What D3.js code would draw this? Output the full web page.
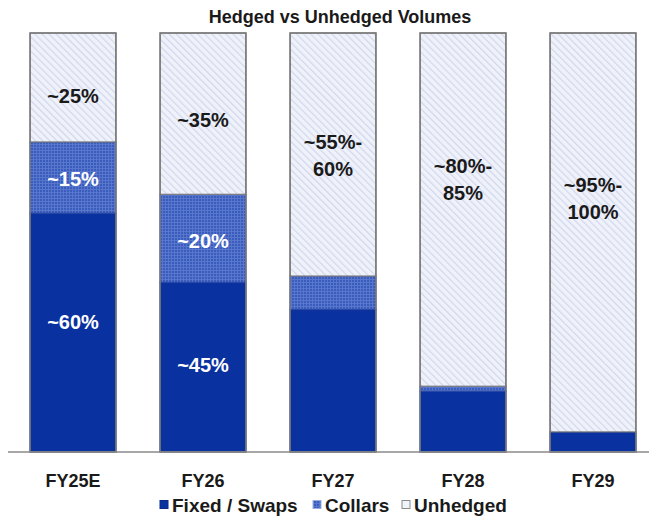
<!DOCTYPE html>
<html>
<head>
<meta charset="utf-8">
<script src="https://cdn.jsdelivr.net/npm/d3@7/dist/d3.min.js"></script>
<style>
  html, body { margin: 0; padding: 0; background: #ffffff; }
  svg { display: block; font-family: "Liberation Sans", Arial, sans-serif; }
</style>
</head>
<body>
<svg id="chart" width="649" height="519"></svg>
<script>
// Fiscal years on the x axis
const categories = ["FY25E", "FY26", "FY27", "FY28", "FY29"];

// Share of volume (%) per hedge type
const fixedSwaps = [57, 40.5, 34, 14.5, 4.8];
const collars    = [17, 21, 8, 1.2, 0];
const unhedged   = [26, 38.5, 58, 84.3, 95.2];

// Text written on each segment (empty = no label)
const fixedLabels    = ["~60%", "~45%", "", "", ""];
const collarLabels   = ["~15%", "~20%", "", "", ""];
const unhedgedLabels = ["~25%", "~35%", "~55%-\n60%", "~80%-\n85%", "~95%-\n100%"];

const seriesNames = ["Fixed / Swaps", "Collars", "Unhedged"];

// Layout: vertical nudges (px) of segment labels from the segment middle
const fixedNudge    = [-11, -2, 0, 0, 0];
const collarNudge   = [1.5, 2, 0, 0, 0];
const unhedgedNudge = [8, 6.5, 1, -30, -34];

// Layout: left edge (px) of each legend swatch
const legendX = [160, 313, 402];

const svg = d3.select("#chart");

// Fill patterns
const defs = svg.append("defs");
const pc = defs.append("pattern").attr("id", "pat-collars")
  .attr("patternUnits", "userSpaceOnUse").attr("width", 3).attr("height", 3);
pc.append("rect").attr("width", 3).attr("height", 3).attr("fill", "#3a5cbd");
pc.append("rect").attr("x", 0).attr("y", 0).attr("width", 3).attr("height", 1).attr("fill", "#5877cc");
pc.append("rect").attr("x", 0).attr("y", 0).attr("width", 1).attr("height", 3).attr("fill", "#5877cc");

const pu = defs.append("pattern").attr("id", "pat-unhedged")
  .attr("patternUnits", "userSpaceOnUse").attr("width", 5).attr("height", 5)
  .attr("patternTransform", "rotate(-45)");
pu.append("rect").attr("width", 5).attr("height", 5).attr("fill", "#f0f2fa");
pu.append("rect").attr("x", 0).attr("y", 0).attr("width", 1.2).attr("height", 5).attr("fill", "#d0d7ee");

const fills = ["#0a31a0", "url(#pat-collars)", "url(#pat-unhedged)"];
const strokes = ["#0a2a86", "#2b4aa6", "#7f7f7f"];
const textColors = ["#ffffff", "#ffffff", "#1a1a1a"];

// Scales
const x = d3.scaleBand().domain(categories).range([8, 658])
  .paddingInner(0.34).paddingOuter(0.17);
const y = d3.scaleLinear().domain([0, 100]).range([452, 33]);

// Title
svg.append("text").attr("x", 340).attr("y", 23).attr("text-anchor", "middle")
  .attr("font-size", 18).attr("font-weight", "bold").attr("fill", "#1a1a1a")
  .text("Hedged vs Unhedged Volumes");

// Stack the three series
const rows = categories.map((c, i) => ({
  cat: c, fixed: fixedSwaps[i], collars: collars[i], unhedged: unhedged[i]
}));
const keys = ["fixed", "collars", "unhedged"];
const stacked = d3.stack().keys(keys)(rows);
const labelSets = [fixedLabels, collarLabels, unhedgedLabels];
const nudges = [fixedNudge, collarNudge, unhedgedNudge];

const gBars = svg.append("g");
stacked.forEach((layer, k) => {
  gBars.append("g").selectAll("rect").data(layer).join("rect")
    .attr("x", d => x(d.data.cat))
    .attr("y", d => y(d[1]))
    .attr("width", x.bandwidth())
    .attr("height", d => Math.max(0, y(d[0]) - y(d[1])))
    .attr("fill", fills[k])
    .attr("stroke", d => (d[1] - d[0]) > 0 ? strokes[k] : "none")
    .attr("stroke-width", 1.2);
});

// Outer bar frame
svg.append("g").selectAll("rect").data(rows).join("rect")
  .attr("x", d => x(d.cat)).attr("y", y(100))
  .attr("width", x.bandwidth()).attr("height", y(0) - y(100))
  .attr("fill", "none").attr("stroke", "#7a7a7a").attr("stroke-width", 1.5);

// Segment labels
const gLab = svg.append("g").attr("font-weight", "bold").attr("font-size", 20)
  .attr("text-anchor", "middle");
stacked.forEach((layer, k) => {
  layer.forEach((d, i) => {
    const txt = labelSets[k][i];
    if (!txt) return;
    const lines = txt.split("\n");
    const lh = 27;
    const mid = (y(d[0]) + y(d[1])) / 2 + nudges[k][i];
    const first = mid - (lines.length - 1) * lh / 2;
    const t = gLab.append("text").attr("fill", textColors[k]);
    lines.forEach((ln, j) => {
      t.append("tspan").attr("x", x(d.data.cat) + x.bandwidth() / 2)
        .attr("y", first + j * lh).attr("dy", "0.36em").text(ln);
    });
  });
});

// Baseline
svg.append("line").attr("x1", 8).attr("x2", 649).attr("y1", y(0)).attr("y2", y(0))
  .attr("stroke", "#8a8a8a").attr("stroke-width", 1.5);

// Category axis (labels only)
const xAxis = svg.append("g").attr("transform", `translate(0,${y(0)})`)
  .call(d3.axisBottom(x).tickSize(0).tickPadding(22));
xAxis.select(".domain").remove();
xAxis.selectAll("text").attr("font-size", 18).attr("font-weight", "bold")
  .attr("fill", "#1a1a1a").attr("font-family", "Liberation Sans, Arial, sans-serif");

// Legend
const legend = svg.append("g").attr("font-size", 19).attr("font-weight", "bold")
  .attr("transform", "translate(0,512)");
const legendFills = ["#0a31a0", "url(#pat-collars)", "#f1f3fb"];
const legendStrokes = ["#0a2a86", "#9aaee0", "#8a8a8a"];
seriesNames.forEach((name, i) => {
  const g = legend.append("g").attr("transform", `translate(${legendX[i]},0)`);
  g.append("rect").attr("x", 0).attr("y", -11.5).attr("width", 8).attr("height", 8)
    .attr("fill", legendFills[i]).attr("stroke", legendStrokes[i]).attr("stroke-width", 1);
  g.append("text").attr("x", 12).attr("y", 0).attr("fill", "#1a1a1a").text(name);
});
</script>
</body>
</html>
